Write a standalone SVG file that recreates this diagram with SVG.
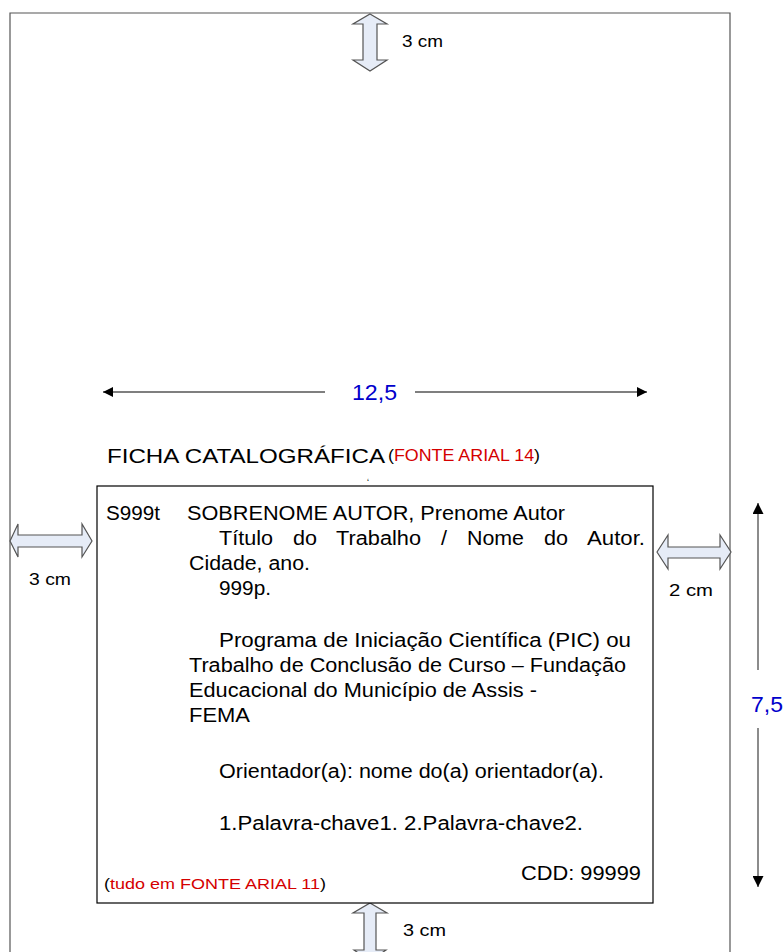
<svg xmlns="http://www.w3.org/2000/svg" width="783" height="952" viewBox="0 0 783 952">
<style>
text{font-family:"Liberation Sans",Arial,sans-serif;fill:#000}
.b{font-size:20px}
.lbl{font-size:17px}
.red{fill:#d40000}
.blue{fill:#0000cc;font-size:22px}
.blk{fill:#e6ecf7;stroke:#555;stroke-width:1.2;stroke-linejoin:miter}
.dim{stroke:#000;stroke-width:1.2;fill:none}
.dimv{stroke:#666;stroke-width:1.5;fill:none}
</style>
<defs>
<marker id="ah" viewBox="0 0 10 10" refX="10" refY="5" markerWidth="14" markerHeight="10" markerUnits="userSpaceOnUse" orient="auto-start-reverse">
<path d="M0,0 L10,5 L0,10 Z" fill="#000"/>
</marker>
<marker id="av" viewBox="0 0 10 10" refX="10" refY="5" markerWidth="17" markerHeight="11" markerUnits="userSpaceOnUse" orient="auto-start-reverse">
<path d="M0,0 L10,5 L0,10 Z" fill="#000"/>
</marker>
</defs>
<rect width="783" height="952" fill="#fff"/>
<g id="page">
<path d="M10,952 V13 H730 V952" fill="none" stroke="#555" stroke-width="1.2"/>
</g>
<g id="connectors">
<line class="dim" x1="103" y1="392" x2="325" y2="392" marker-start="url(#ah)"/>
<line class="dim" x1="415" y1="392" x2="647" y2="392" marker-end="url(#ah)"/>
<line class="dimv" x1="758" y1="503" x2="758" y2="670" marker-start="url(#av)"/>
<line class="dimv" x1="758" y1="728" x2="758" y2="887" marker-end="url(#av)"/>
</g>
<g id="dim-width">
<text class="blue" x="352" y="400" textLength="45" lengthAdjust="spacingAndGlyphs">12,5</text>
</g>
<g id="dim-height">
<text class="blue" x="751" y="712" textLength="32" lengthAdjust="spacingAndGlyphs">7,5</text>
</g>
<g id="margin-top">
<path class="blk" d="M370,14 L387,24 L377,24 L377,60 L387,60 L370,71 L353,60 L363,60 L363,24 L353,24 Z"/>
<text class="lbl" x="402" y="47" textLength="41" lengthAdjust="spacingAndGlyphs">3 cm</text>
</g>
<g id="margin-left">
<path class="blk" d="M10,541 L18,524 L18,535 L82,535 L82,524 L92,541 L82,557 L82,547 L18,547 L18,557 Z"/>
<text class="lbl" x="29" y="585" textLength="42" lengthAdjust="spacingAndGlyphs">3 cm</text>
</g>
<g id="margin-right">
<path class="blk" d="M657,552 L668,535 L668,547 L720,547 L720,535 L731,552 L720,569 L720,558 L668,558 L668,569 Z"/>
<text class="lbl" x="669" y="596" textLength="44" lengthAdjust="spacingAndGlyphs">2 cm</text>
</g>
<g id="margin-bottom">
<path class="blk" d="M370,903 L387,913 L376,913 L376,950 L386,950 L370,961 L354,950 L364,950 L364,913 L353,913 Z"/>
<text class="lbl" x="403" y="936" textLength="43" lengthAdjust="spacingAndGlyphs">3 cm</text>
</g>
<g id="title">
<text x="107" y="463" font-size="21" textLength="278" lengthAdjust="spacingAndGlyphs">FICHA CATALOGRÁFICA</text>
<text x="388" y="461" font-size="16" textLength="152" lengthAdjust="spacingAndGlyphs">(<tspan class="red">FONTE ARIAL 14</tspan>)</text>
<text x="367" y="486" font-size="9">ʻ</text>
</g>
<g id="ficha">
<rect x="97" y="486" width="556" height="417" fill="#fff" stroke="#000" stroke-width="1.2"/>
<text class="b" x="106" y="520" textLength="54" lengthAdjust="spacingAndGlyphs">S999t</text>
<text class="b" x="187" y="520" textLength="378" lengthAdjust="spacingAndGlyphs">SOBRENOME AUTOR, Prenome Autor</text>
<text class="b" x="219" y="545" textLength="54" lengthAdjust="spacingAndGlyphs">Título</text>
<text class="b" x="293" y="545" textLength="24" lengthAdjust="spacingAndGlyphs">do</text>
<text class="b" x="336" y="545" textLength="85" lengthAdjust="spacingAndGlyphs">Trabalho</text>
<text class="b" x="441" y="545" textLength="6" lengthAdjust="spacingAndGlyphs">/</text>
<text class="b" x="467" y="545" textLength="57" lengthAdjust="spacingAndGlyphs">Nome</text>
<text class="b" x="544" y="545" textLength="24" lengthAdjust="spacingAndGlyphs">do</text>
<text class="b" x="587" y="545" textLength="58" lengthAdjust="spacingAndGlyphs">Autor.</text>
<text class="b" x="189" y="570" textLength="121" lengthAdjust="spacingAndGlyphs">Cidade, ano.</text>
<text class="b" x="219" y="595" textLength="52" lengthAdjust="spacingAndGlyphs">999p.</text>
<text class="b" x="219" y="647" textLength="412" lengthAdjust="spacingAndGlyphs">Programa de Iniciação Científica (PIC) ou</text>
<text class="b" x="189" y="672" textLength="437" lengthAdjust="spacingAndGlyphs">Trabalho de Conclusão de Curso – Fundação</text>
<text class="b" x="189" y="697" textLength="348" lengthAdjust="spacingAndGlyphs">Educacional do Município de Assis -</text>
<text class="b" x="189" y="722" textLength="61" lengthAdjust="spacingAndGlyphs">FEMA</text>
<text class="b" x="219" y="778" textLength="385" lengthAdjust="spacingAndGlyphs">Orientador(a): nome do(a) orientador(a).</text>
<text class="b" x="219" y="830" textLength="364" lengthAdjust="spacingAndGlyphs">1.Palavra-chave1. 2.Palavra-chave2.</text>
<text class="b" x="521" y="880" textLength="120" lengthAdjust="spacingAndGlyphs">CDD: 99999</text>
<text x="104" y="889" font-size="15" textLength="222" lengthAdjust="spacingAndGlyphs">(<tspan class="red">tudo em FONTE ARIAL 11</tspan>)</text>
</g>
</svg>
